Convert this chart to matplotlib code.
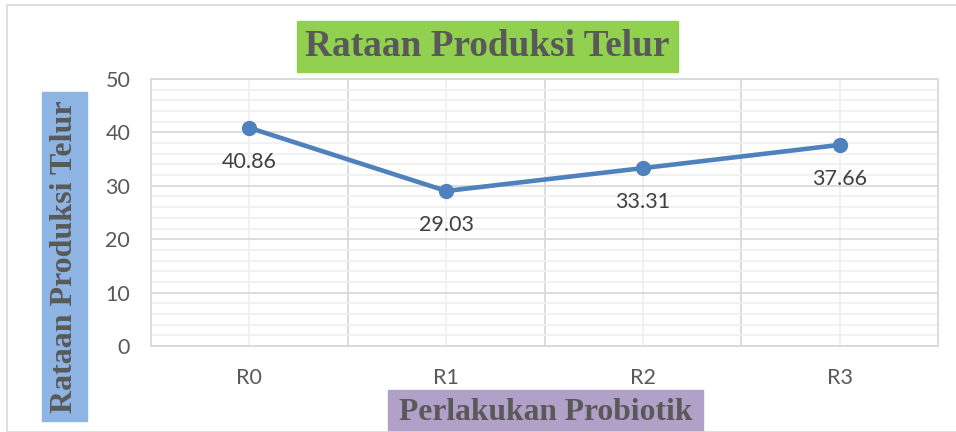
import matplotlib.pyplot as plt
from matplotlib.patches import Rectangle
from matplotlib.ticker import MultipleLocator

categories = ['R0', 'R1', 'R2', 'R3']
values = [40.86, 29.03, 33.31, 37.66]
labels = ['40.86', '29.03', '33.31', '37.66']

title = 'Rataan Produksi Telur'
xlabel = 'Perlakukan Probiotik'
ylabel = 'Rataan Produksi Telur'

W, H = 956, 432
fig = plt.figure(figsize=(W / 100, H / 100), dpi=100)

# outer chart frame
fig.patches.append(Rectangle((7 / W, 0), 1.2, 1 - 5 / H, transform=fig.transFigure,
                             fill=False, edgecolor='#D9D9D9', lw=1.2))

ax = fig.add_axes([151 / W, 1 - 346 / H, (938 - 151) / W, (346 - 79) / H])
x = list(range(len(categories)))
ax.plot(x, values, color='#4F81BD', lw=3.3, marker='o', markersize=10, zorder=3)
for xi, v, lab in zip(x, values, labels):
    ax.annotate(lab, (xi, v), xytext=(0, -34), textcoords='offset pixels',
                ha='center', va='center', fontsize=15.5, color='#404040', family='Lato')

ax.set_xlim(-0.5, 3.5)
ax.set_ylim(0, 50)
ax.set_xticks(x)
ax.set_xticklabels(categories)
ax.yaxis.set_major_locator(MultipleLocator(10))
ax.yaxis.set_minor_locator(MultipleLocator(2))
ax.set_xticks([0.5, 1.5, 2.5], minor=True)
ax.grid(which='major', axis='y', color='#D9D9D9', lw=1.3)
ax.grid(which='minor', axis='y', color='#F0F0F0', lw=1.3)
ax.grid(which='major', axis='x', color='#F0F0F0', lw=1.3)
ax.grid(which='minor', axis='x', color='#D9D9D9', lw=1.3)
ax.set_axisbelow(True)
ax.tick_params(which='both', length=0)
ax.tick_params(axis='y', pad=15, labelsize=15.5, labelcolor='#595959')
ax.tick_params(axis='x', pad=16, labelsize=15.5, labelcolor='#595959')
for lab in ax.get_xticklabels() + ax.get_yticklabels():
    lab.set_family('Lato')
for s in ax.spines.values():
    s.set_color('#D9D9D9')
    s.set_linewidth(1.3)

# title box
fig.patches.append(Rectangle((297 / W, 1 - 72 / H), (678 - 297) / W, 51 / H,
                             transform=fig.transFigure, color='#92D050', zorder=0))
fig.text((297 + 678) / 2 / W, 1 - 47 / H, title, ha='center', va='center',
         fontsize=26.8, fontweight='bold', family='Liberation Serif', color='#595959')

# y label box
fig.patches.append(Rectangle((42 / W, 1 - 421 / H), 45 / W, (421 - 92) / H,
                             transform=fig.transFigure, color='#8DB4E2', zorder=0))
fig.text(65 / W, 1 - 257 / H, ylabel, ha='center', va='center', rotation=90,
         fontsize=23, fontweight='bold', family='Liberation Serif', color='#595959')

# x label box
fig.patches.append(Rectangle((388 / W, 0), (703 - 388) / W, 42 / H,
                             transform=fig.transFigure, color='#B1A0C7', zorder=0))
fig.text((388 + 703) / 2 / W, 1 - 412 / H, xlabel, ha='center', va='center',
         fontsize=22.7, fontweight='bold', family='Liberation Serif', color='#595959')

fig.savefig('out.png', dpi=100)
